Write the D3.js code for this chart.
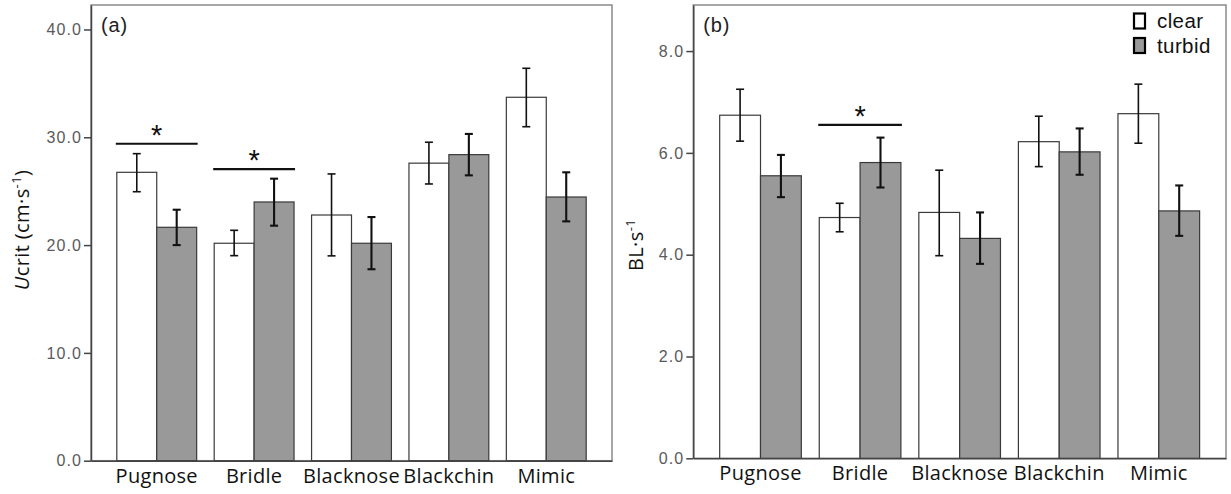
<!DOCTYPE html>
<html><head><meta charset="utf-8">
<script src="https://cdn.jsdelivr.net/npm/d3@7"></script>
<style>
html,body{margin:0;padding:0;background:#fff;}
svg{display:block;}
</style></head>
<body>
<svg id="chart" width="1231" height="494"></svg>
<script>
// ---- data ----
const categories = ["Pugnose", "Bridle", "Blacknose", "Blackchin", "Mimic"];
const seriesNames = ["clear", "turbid"];

// Panel (a): Ucrit (cm·s-1)
const ucritClear      = [26.75, 20.17, 22.79, 27.60, 33.71];
const ucritClearLow   = [24.95, 19.02, 19.00, 25.67, 30.98];
const ucritClearHigh  = [28.48, 21.37, 26.60, 29.54, 36.40];
const ucritTurbid     = [21.65, 24.00, 20.17, 28.39, 24.46];
const ucritTurbidLow  = [20.00, 21.80, 17.76, 26.47, 22.20];
const ucritTurbidHigh = [23.28, 26.16, 22.60, 30.31, 26.75];
const ucritTicks = [0, 10, 20, 30, 40];
const ucritSig = [{cat: "Pugnose", y: 29.4}, {cat: "Bridle", y: 27.05}];

// Panel (b): BL·s-1
const blClear      = [6.74, 4.73, 4.83, 6.22, 6.77];
const blClearLow   = [6.23, 4.45, 3.98, 5.73, 6.19];
const blClearHigh  = [7.25, 5.01, 5.66, 6.72, 7.35];
const blTurbid     = [5.55, 5.81, 4.32, 6.02, 4.86];
const blTurbidLow  = [5.13, 5.32, 3.82, 5.57, 4.37];
const blTurbidHigh = [5.96, 6.30, 4.83, 6.48, 5.36];
const blTicks = [0, 2, 4, 6, 8];
const blSig = [{cat: "Bridle", y: 6.55}];

const svg = d3.select("#chart");
const fills = {clear: "#ffffff", turbid: "#999999"};

function drawPanel(cfg) {
  const g = svg.append("g");
  const x = d3.scaleBand().domain(categories).range([cfg.left, cfg.right])
    .paddingInner(0.18).paddingOuter(0.265);
  const xs = d3.scaleBand().domain(seriesNames).range([0, x.bandwidth()]);
  const y = d3.scaleLinear().domain([0, cfg.ymax]).range([cfg.bottom, cfg.top]);

  // frame
  g.append("rect").attr("x", cfg.left).attr("y", cfg.top)
    .attr("width", cfg.right - cfg.left).attr("height", cfg.bottom - cfg.top)
    .attr("fill", "none").attr("stroke", "#8a8a8a").attr("stroke-width", 1.5);

  // bars
  const rows = [];
  categories.forEach((c, i) => {
    rows.push({c, s: "clear", v: cfg.clear[i], lo: cfg.clearLo[i], hi: cfg.clearHi[i]});
    rows.push({c, s: "turbid", v: cfg.turbid[i], lo: cfg.turbidLo[i], hi: cfg.turbidHi[i]});
  });
  g.selectAll("rect.bar").data(rows).enter().append("rect").attr("class", "bar")
    .attr("x", d => x(d.c) + xs(d.s)).attr("width", xs.bandwidth())
    .attr("y", d => y(d.v)).attr("height", d => y(0) - y(d.v))
    .attr("fill", d => fills[d.s]).attr("stroke", "#3a3a3a").attr("stroke-width", 1.2);

  // error bars
  const eb = g.selectAll("g.eb").data(rows).enter().append("g").attr("class", "eb")
    .attr("stroke", "#111").attr("stroke-width", d => d.s === "clear" ? 1.6 : 2.1);
  const cx = d => x(d.c) + xs(d.s) + xs.bandwidth() / 2;
  eb.append("line").attr("x1", cx).attr("x2", cx).attr("y1", d => y(d.lo)).attr("y2", d => y(d.hi));
  eb.append("line").attr("x1", d => cx(d) - 4).attr("x2", d => cx(d) + 4).attr("y1", d => y(d.hi)).attr("y2", d => y(d.hi));
  eb.append("line").attr("x1", d => cx(d) - 4).attr("x2", d => cx(d) + 4).attr("y1", d => y(d.lo)).attr("y2", d => y(d.lo));

  // significance
  cfg.sig.forEach(s => {
    g.append("line").attr("x1", x(s.cat) - 1).attr("x2", x(s.cat) + x.bandwidth() + 1)
      .attr("y1", y(s.y)).attr("y2", y(s.y)).attr("stroke", "#111").attr("stroke-width", 2.2);
    g.append("text").attr("x", x(s.cat) + x.bandwidth() / 2).attr("y", y(s.y) + 1)
      .attr("text-anchor", "middle").attr("font-family", "Liberation Sans, Arial, sans-serif")
      .attr("font-size", 29).attr("fill", "#111").text("*");
  });

  // y axis
  const yAxis = d3.axisLeft(y).tickValues(cfg.ticks).tickFormat(d3.format(".1f"))
    .tickSize(7).tickPadding(2).tickSizeOuter(0);
  const ya = g.append("g").attr("transform", `translate(${cfg.left},0)`).call(yAxis);
  ya.select(".domain").attr("stroke", "#444").attr("stroke-width", 1.5);
  ya.selectAll(".tick line").attr("stroke", "#444").attr("stroke-width", 1.5);
  ya.selectAll(".tick text").attr("font-family", "Liberation Sans, Arial, sans-serif")
    .attr("font-size", 16).attr("letter-spacing", "1.1px").attr("fill", "#5a5a5a");

  // x axis
  const xAxis = d3.axisBottom(x).tickSize(0).tickPadding(8);
  const xa = g.append("g").attr("transform", `translate(0,${cfg.bottom})`).call(xAxis);
  xa.select(".domain").attr("stroke", "#444").attr("stroke-width", 1.5);
  xa.selectAll(".tick text").attr("font-family", "Open Sans, sans-serif")
    .attr("font-size", 20).attr("letter-spacing", "0.3px").attr("fill", "#111").attr("dy", "0.71em");

  // panel tag
  g.append("text").attr("x", cfg.left + 10).attr("y", cfg.top + 27)
    .attr("font-family", "Liberation Sans, Arial, sans-serif").attr("font-size", 20)
    .attr("letter-spacing", "0.8px").attr("fill", "#222")
    .text(cfg.tag);

  return {x, y, g};
}

const pa = drawPanel({left: 91, right: 612, top: 5, bottom: 460.7, ymax: 42.27,
  clear: ucritClear, clearLo: ucritClearLow, clearHi: ucritClearHigh,
  turbid: ucritTurbid, turbidLo: ucritTurbidLow, turbidHi: ucritTurbidHigh,
  ticks: ucritTicks, sig: ucritSig, tag: "(a)"});

const pb = drawPanel({left: 693.3, right: 1226, top: 5, bottom: 458.3, ymax: 8.905,
  clear: blClear, clearLo: blClearLow, clearHi: blClearHigh,
  turbid: blTurbid, turbidLo: blTurbidLow, turbidHi: blTurbidHigh,
  ticks: blTicks, sig: blSig, tag: "(b)"});

// y labels
const la = svg.append("text").attr("transform", "translate(29,230) rotate(-90)")
  .attr("text-anchor", "middle").attr("font-family", "Open Sans, sans-serif").attr("font-size", 20)
  .attr("letter-spacing", "0.4px").attr("fill", "#111");
la.append("tspan").attr("font-style", "italic").text("U");
la.append("tspan").text("crit (cm·s");
la.append("tspan").attr("font-size", 13).attr("dy", -8).text("-1");
la.append("tspan").attr("dy", 8).text(")");

const lb = svg.append("text").attr("transform", "translate(643,245) rotate(-90)")
  .attr("text-anchor", "middle").attr("font-family", "Open Sans, sans-serif").attr("font-size", 20)
  .attr("letter-spacing", "0.4px").attr("fill", "#111");
lb.append("tspan").text("BL·s");
lb.append("tspan").attr("font-size", 13).attr("dy", -8).text("-1");

// legend
const leg = svg.append("g");
seriesNames.forEach((s, i) => {
  const yy = 13.5 + i * 24.5;
  leg.append("rect").attr("x", 1134).attr("y", yy).attr("width", 11).attr("height", 15)
    .attr("fill", fills[s]).attr("stroke", "#000").attr("stroke-width", 2.2);
  leg.append("text").attr("x", 1157).attr("y", yy + 14.5)
    .attr("font-family", "Liberation Sans, Arial, sans-serif").attr("font-size", 20.5)
    .attr("letter-spacing", "0.4px").attr("fill", "#111").text(s);
});
</script>
</body></html>
